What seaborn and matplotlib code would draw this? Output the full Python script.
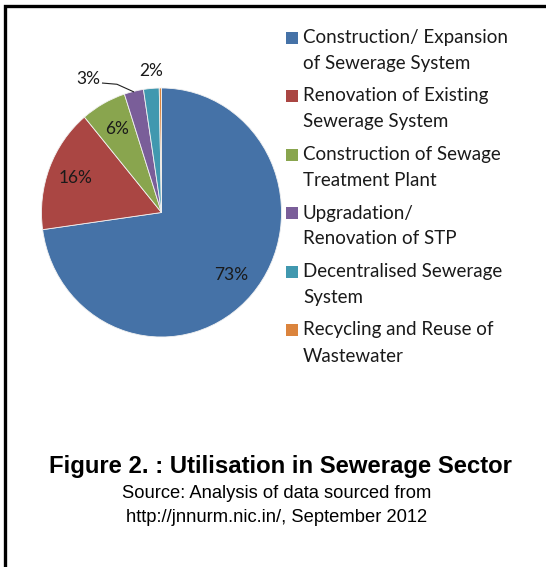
import matplotlib
matplotlib.use("Agg")
import matplotlib.pyplot as plt
from matplotlib.patches import Rectangle
from matplotlib.lines import Line2D
import numpy as np
import seaborn as sns

categories = [
    "Construction/ Expansion\nof Sewerage System",
    "Renovation of Existing\nSewerage System",
    "Construction of Sewage\nTreatment Plant",
    "Upgradation/\nRenovation of STP",
    "Decentralised Sewerage\nSystem",
    "Recycling and Reuse of\nWastewater",
]
values = [72.8, 16.1, 6.1, 2.6, 2.1, 0.3]
colors = ["#4572A7", "#AA4643", "#89A54E", "#7A5E99", "#4198AF", "#DB843D"]

title = "Figure 2. : Utilisation in Sewerage Sector"
source_lines = ["Source: Analysis of data sourced from",
                "http://jnnurm.nic.in/, September 2012"]

sns.set_theme(style="white")
plt.rcParams['font.family'] = ['Lato', 'DejaVu Sans']

W, H = 546, 567
fig = plt.figure(figsize=(W / 100, H / 100), dpi=100)
fig.patch.set_facecolor("white")

# pie axes
cx, cy, rx, ry = 161.5, 212.5, 120, 124.5
ax = fig.add_axes([(cx - rx) / W, (H - cy - ry) / H, 2 * rx / W, 2 * ry / H])
wedges, _ = ax.pie(values, colors=colors, startangle=90, counterclock=False,
                   radius=1, wedgeprops=dict(edgecolor="#f2f2f2", linewidth=0.6))
ax.set_aspect("auto")
ax.set_xlim(-1, 1)
ax.set_ylim(-1, 1)
ax.axis("off")

label_fs = 12.5
for i, (w, v) in enumerate(zip(wedges, values)):
    if v < 1:
        continue
    mid = np.deg2rad((w.theta1 + w.theta2) / 2)
    txt = f"{round(v):d}%"
    if v >= 5:
        r = 0.77
        ax.text(r * np.cos(mid), r * np.sin(mid), txt, ha="center", va="center",
                fontsize=label_fs, color="#1a1a1a")
    elif v >= 2.5:
        ex, ey = 0.995 * np.cos(mid), 0.995 * np.sin(mid)
        ax.text(-0.608, 1.072, txt, ha="center", va="center",
                fontsize=label_fs, color="#1a1a1a")
        ax.plot([-0.496, -0.371, ex], [1.04, 1.03, ey], color="#222222",
                lw=0.8, clip_on=False, solid_capstyle="butt")
    else:
        ax.text(-0.0875, 1.137, txt, ha="center", va="center",
                fontsize=label_fs, color="#1a1a1a")

# legend (manual, two-line entries)
leg_x_box, leg_x_txt = 286, 303
y0, step, line_gap = 37.5, 58.5, 26
for i, (lab, col) in enumerate(zip(categories, colors)):
    yc = y0 + i * step
    fig.patches.append(Rectangle((leg_x_box / W, (H - yc - 6) / H), 12 / W, 12 / H,
                                 transform=fig.transFigure, facecolor=col,
                                 edgecolor="none"))
    for j, line in enumerate(lab.split("\n")):
        fig.text(leg_x_txt / W, (H - (yc + j * line_gap)) / H, line,
                 ha="left", va="center", fontsize=13.5, color="#1a1a1a")

# caption
fig.text(280 / W, (H - 466) / H, title, ha="center", va="center",
         fontsize=17.2, fontweight="bold", family="Liberation Sans", color="black")
for k, s in enumerate(source_lines):
    fig.text(277 / W, (H - (493 + 25 * k)) / H, s, ha="center", va="center",
             fontsize=13.2, family="Liberation Sans", color="black")

# border (top and left)
fig.add_artist(Line2D([5 / W, 5 / W, 1.0], [0.0, (H - 6) / H, (H - 6) / H],
                      transform=fig.transFigure, color="black", linewidth=2.4,
                      solid_joinstyle="miter"))

fig.savefig("out.png", dpi=100, facecolor="white")
